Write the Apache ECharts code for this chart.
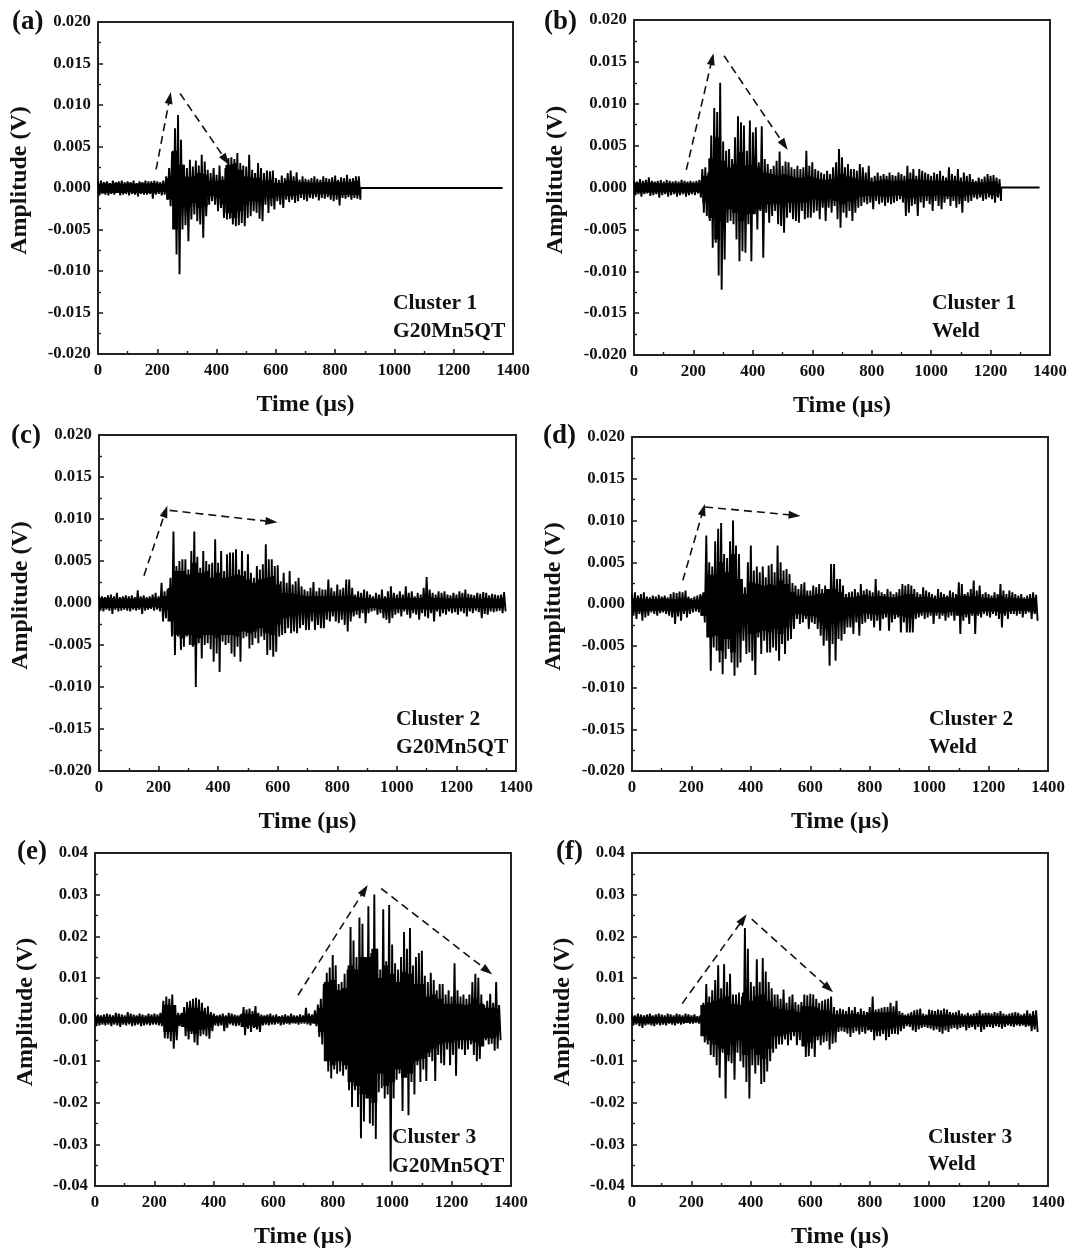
<!DOCTYPE html>
<html><head><meta charset="utf-8"><style>html,body{margin:0;padding:0;background:#fff}#c{width:1070px;height:1250px;filter:blur(0.45px)}</style>
<script src="https://cdn.jsdelivr.net/npm/echarts@6/dist/echarts.min.js"></script></head>
<body><div id="c"></div><script>
// Peak envelopes, in units of 0.0001 V, one value per 10 us starting at t = 0.
const upA=[8,9,7,8,6,9,7,8,9,7, 8,7,9,6,8,7,9,8,8,9, 8,7,9,14,24,44,72,88,58,28,
24,34,26,33,27,40,32,22,18,24, 16,27,14,24,36,37,35,42,30,27, 26,40,22,18,30,24,18,21,20,21,
12,10,15,12,18,21,14,19,10,14, 11,10,12,14,11,10,14,12,11,13, 15,10,13,12,16,11,12,14,14];
const downA=[-9,-7,-8,-9,-7,-8,-6,-9,-8,-7, -9,-7,-8,-10,-7,-8,-8,-7,-13,-8, -7,-9,-8,-14,-22,-30,-80,-104,-50,-45,
-64,-38,-32,-40,-44,-60,-34,-20,-16,-20, -28,-24,-36,-38,-37,-44,-46,-45,-42,-46, -36,-34,-28,-30,-37,-40,-20,-30,-22,-26,
-16,-20,-24,-14,-17,-14,-18,-16,-12,-14, -16,-12,-13,-11,-15,-12,-13,-11,-14,-16, -14,-21,-12,-13,-11,-14,-12,-13,-14];
const upB=[8,7,10,8,9,12,8,7,8,9, 7,9,8,7,8,7,9,8,7,8, 7,8,9,22,24,18,62,95,90,125,
55,44,46,34,60,85,78,74,44,80, 66,72,30,73,34,28,22,26,32,43, 26,31,30,24,22,26,22,24,44,26,
30,22,20,18,16,20,16,24,30,46, 36,24,28,22,22,20,28,24,18,26, 12,14,18,14,16,14,18,15,14,18,
16,14,26,18,22,14,22,20,18,16, 14,18,16,20,14,12,24,16,14,22, 12,18,14,16,10,8,12,10,13,16, 14,15,12,10];
const downB=[-9,-8,-11,-8,-7,-10,-9,-8,-12,-9, -8,-11,-9,-8,-11,-9,-8,-11,-9,-8, -9,-7,-12,-30,-34,-40,-72,-66,-105,-122,
-86,-42,-40,-44,-62,-88,-76,-78,-44,-88, -30,-50,-28,-84,-30,-42,-34,-28,-44,-46, -54,-36,-30,-38,-40,-42,-28,-38,-36,-36,
-30,-28,-38,-24,-40,-24,-30,-22,-38,-48, -30,-36,-28,-40,-30,-24,-22,-18,-20,-18, -26,-16,-20,-18,-22,-18,-20,-18,-16,-14,
-18,-34,-30,-22,-20,-34,-18,-24,-16,-20, -28,-16,-22,-26,-18,-14,-22,-16,-24,-20, -30,-16,-18,-16,-12,-14,-12,-16,-14,-12, -14,-18,-12,-16];
const upC=[9,8,7,9,10,8,12,7,8,9, 8,9,7,15,8,9,7,8,10,12, 8,24,14,16,30,85,44,50,52,52,
40,62,85,55,42,62,50,46,48,76, 48,62,38,58,60,60,64,40,62,38, 58,36,30,44,40,46,70,52,52,44,
45,26,36,24,38,22,26,30,20,16, 14,18,25,14,18,16,16,28,18,14, 22,16,18,28,28,18,10,14,12,16,
14,10,8,12,10,16,8,14,20,12, 10,14,10,20,12,14,8,12,10,18, 31,16,12,10,14,12,14,10,9,12,
10,14,12,16,11,10,9,12,11,13, 12,9,11,10,9,10,13];
const downC=[-9,-10,-8,-9,-13,-8,-10,-9,-8,-9, -10,-8,-9,-8,-13,-9,-8,-7,-9,-8, -10,-22,-18,-12,-40,-62,-40,-56,-52,-40,
-50,-52,-100,-48,-66,-50,-48,-55,-70,-60, -82,-46,-50,-48,-60,-64,-52,-70,-42,-40, -54,-50,-42,-48,-40,-44,-62,-56,-64,-58,
-40,-38,-36,-30,-36,-34,-36,-30,-26,-32, -32,-22,-32,-26,-30,-30,-20,-22,-16,-22, -24,-20,-26,-34,-22,-16,-14,-18,-12,-24,
-12,-10,-9,-14,-12,-18,-20,-24,-18,-14, -12,-16,-10,-14,-18,-12,-14,-20,-12,-16, -18,-12,-22,-10,-16,-12,-14,-10,-12,-11,
-14,-10,-12,-16,-10,-12,-9,-11,-18,-13, -14,-10,-11,-10,-9,-12,-10];
const upD=[12,14,10,12,14,9,8,10,9,11, 9,10,8,12,14,13,15,14,16,9, 7,9,10,12,14,82,50,45,75,90,
97,60,55,75,100,70,60,30,20,50, 70,40,45,38,45,32,46,48,38,70, 50,40,42,36,25,22,18,24,26,16,
16,22,20,24,18,22,18,48,48,30, 30,22,12,14,15,18,14,24,16,18, 16,14,30,16,14,12,18,15,12,14,
18,24,22,24,22,18,14,12,20,16, 14,12,10,18,14,12,10,16,14,12, 26,24,12,14,18,28,16,22,12,14,
12,10,14,12,24,16,12,16,14,12, 10,12,8,10,12,14,11];
const downD=[-14,-18,-12,-20,-16,-14,-10,-12,-14,-11, -10,-12,-14,-16,-24,-15,-20,-12,-16,-12, -10,-9,-10,-14,-22,-34,-80,-52,-56,-70,
-84,-66,-54,-70,-86,-76,-70,-44,-60,-58, -68,-85,-40,-60,-44,-58,-58,-52,-56,-68, -48,-60,-44,-42,-30,-18,-24,-22,-18,-30,
-22,-24,-30,-38,-50,-44,-74,-48,-68,-42, -44,-36,-28,-28,-36,-22,-38,-24,-22,-18, -20,-28,-20,-32,-18,-16,-32,-22,-18,-16,
-34,-22,-34,-34,-34,-18,-16,-14,-18,-16, -14,-24,-14,-18,-14,-20,-16,-14,-20,-12, -36,-20,-16,-24,-14,-36,-14,-16,-12,-14,
-16,-12,-14,-18,-28,-14,-18,-12,-12,-14, -12,-16,-12,-10,-18,-12,-20];
const upE=[14,12,10,12,14,12,10,16,14,12, 10,18,14,12,10,14,12,10,14,12, 14,12,16,45,55,50,60,35,16,14,
30,42,45,50,52,48,40,28,32,18, 14,10,12,14,10,16,14,12,10,12, 30,24,26,20,32,16,12,10,12,14,
10,12,8,10,12,9,14,10,9,12, 10,28,14,12,22,36,50,85,112,125, 155,130,85,90,110,120,222,190,150,245,
230,140,272,160,300,170,120,265,140,275, 180,135,120,150,210,170,220,130,150,160, 165,105,90,112,95,70,85,85,60,70,
55,135,70,55,60,50,60,90,110,100, 60,35,45,62,40,90,35];
const downE=[-16,-14,-12,-14,-12,-16,-12,-14,-18,-12, -14,-12,-16,-14,-12,-16,-14,-12,-14,-12, -12,-14,-16,-45,-46,-52,-70,-50,-16,-18,
-40,-48,-35,-55,-62,-40,-36,-40,-46,-28, -14,-16,-14,-28,-20,-12,-14,-16,-14,-12, -38,-22,-30,-20,-24,-30,-14,-12,-14,-12,
-12,-10,-14,-12,-10,-12,-9,-10,-12,-10, -10,-12,-14,-10,-16,-42,-60,-90,-125,-142, -120,-130,-125,-135,-120,-170,-210,-170,-210,-285,
-245,-175,-250,-255,-287,-175,-165,-190,-180,-365, -190,-145,-130,-220,-120,-230,-150,-180,-110,-150, -120,-148,-90,-100,-148,-85,-105,-110,-72,-110,
-85,-135,-70,-72,-85,-72,-60,-85,-100,-95, -60,-50,-60,-58,-75,-70,-50];
const upF=[12,10,14,12,10,12,14,10,12,14, 12,10,14,12,10,14,12,10,14,12, 10,12,8,10,40,85,55,70,95,130,
75,133,90,110,60,60,65,55,220,170, 90,80,145,90,148,115,90,75,60,60, 50,72,40,55,60,42,36,42,60,58,
62,60,50,40,45,48,50,55,30,22, 26,24,20,30,22,30,18,26,20,18, 30,55,24,26,28,30,30,40,32,45,
20,16,12,14,18,22,24,26,14,12, 24,22,20,24,22,26,24,18,16,18, 22,14,12,16,12,14,16,22,14,16,
16,14,18,16,20,14,12,14,16,18, 16,12,14,22,14,20,22];
const downF=[-14,-12,-16,-20,-14,-12,-14,-16,-12,-14, -12,-14,-10,-12,-14,-10,-12,-10,-8,-10, -10,-8,-10,-12,-55,-60,-85,-90,-110,-140,
-80,-190,-100,-105,-145,-80,-100,-115,-150,-190, -110,-130,-110,-155,-150,-125,-100,-80,-70,-60, -60,-48,-62,-50,-40,-62,-50,-48,-90,-88,
-70,-90,-50,-62,-55,-52,-72,-58,-55,-30, -28,-30,-34,-42,-32,-28,-36,-30,-34,-26, -30,-50,-40,-40,-35,-50,-42,-35,-34,-36,
-28,-22,-16,-18,-26,-30,-24,-20,-18,-20, -22,-26,-24,-30,-34,-26,-30,-22,-20,-24, -20,-18,-26,-20,-18,-24,-18,-30,-24,-18,
-18,-20,-16,-18,-22,-18,-14,-16,-18,-14, -16,-14,-18,-16,-28,-24,-30];
// Solid-black core of each trace, in 0.0001 V, one value per 20 us from t = 0.
const coreUpA=[5,6,5,6,5,6,5,6,5,6,5,5,12,45,28,14,14,18,16,8,8,10,28,30,22,14,12,12,9,10,6,6,9,8,7,7,6,7,7,7,8,7,7,8,9];
const coreDownA=[-6,-6,-6,-6,-6,-5,-6,-6,-6,-6,-5,-5,-14,-50,-26,-22,-18,-24,-22,-10,-12,-20,-30,-36,-28,-20,-16,-16,-10,-12,-8,-9,-10,-9,-7,-7,-7,-7,-7,-8,-8,-8,-8,-8,-9];
const coreUpB=[6,5,6,6,5,5,5,5,5,5,5,6,14,35,60,32,24,28,42,26,28,24,18,16,14,16,14,12,12,14,12,10,9,10,12,16,13,11,8,8,7,8,10,8,8,8,10,10,9,9,8,8,8,8,8,7,7,6,6,6,7,8];
const coreDownB=[-6,-6,-6,-6,-6,-6,-5,-6,-6,-6,-5,-6,-18,-36,-62,-40,-26,-30,-40,-32,-32,-26,-20,-20,-20,-22,-18,-16,-18,-18,-14,-14,-12,-12,-16,-20,-16,-14,-11,-10,-10,-10,-11,-10,-9,-10,-11,-12,-10,-10,-10,-9,-10,-11,-10,-10,-9,-8,-8,-7,-9,-10];
const coreUpC=[6,6,6,5,6,5,5,6,5,6,5,8,18,38,38,34,48,36,38,30,36,30,32,34,32,28,24,28,30,32,22,12,12,10,9,8,8,8,8,8,8,8,9,7,6,6,5,5,6,6,6,6,6,6,6,8,6,6,5,5,5,6,6,5,5,6,5,5,7];
const coreDownC=[-6,-6,-6,-6,-6,-6,-6,-5,-6,-5,-6,-8,-22,-38,-42,-38,-50,-42,-38,-38,-42,-38,-38,-40,-34,-36,-34,-30,-36,-38,-26,-18,-16,-14,-12,-12,-11,-10,-10,-10,-9,-10,-11,-9,-7,-6,-6,-7,-8,-7,-7,-7,-8,-7,-7,-8,-7,-7,-7,-6,-6,-6,-6,-6,-6,-6,-6,-6,-7];
const coreUpD=[7,7,6,6,6,7,6,6,7,7,5,5,10,35,35,50,38,60,30,12,26,24,22,24,22,28,24,14,10,10,10,12,13,18,18,14,8,8,10,11,9,9,10,8,8,10,12,12,8,9,8,6,8,8,7,10,10,8,10,7,7,7,10,7,7,7,6,7,8];
const coreDownD=[-9,-9,-8,-8,-8,-8,-8,-9,-9,-8,-5,-6,-14,-40,-38,-56,-42,-58,-34,-22,-36,-34,-32,-34,-30,-36,-28,-12,-12,-14,-14,-16,-22,-30,-24,-20,-14,-12,-14,-11,-12,-13,-12,-11,-13,-14,-16,-16,-11,-10,-10,-10,-11,-10,-9,-14,-12,-11,-12,-9,-9,-9,-11,-9,-8,-8,-8,-9,-11];
const coreUpE=[7,6,6,6,6,6,6,7,6,7,6,8,35,35,10,16,28,28,20,12,8,7,7,7,7,14,12,14,7,7,6,6,6,6,6,6,8,10,28,90,95,70,75,130,120,150,150,170,100,130,110,90,115,110,85,85,55,60,50,38,38,38,35,38,50,38,28,28,24];
const coreDownE=[-8,-7,-7,-7,-7,-7,-7,-8,-7,-7,-7,-9,-30,-30,-10,-18,-28,-34,-24,-12,-8,-8,-8,-8,-7,-18,-14,-18,-8,-7,-6,-6,-7,-7,-6,-6,-8,-10,-30,-100,-110,-100,-110,-150,-160,-180,-190,-200,-130,-160,-150,-120,-140,-130,-100,-95,-80,-70,-60,-55,-55,-50,-50,-50,-55,-65,-45,-45,-40];
const coreUpF=[7,6,6,7,6,6,6,6,6,6,5,5,35,40,45,50,55,38,35,65,45,55,60,45,30,25,22,20,18,32,32,28,22,20,12,12,12,14,12,10,16,18,16,18,16,10,8,10,10,8,12,11,12,12,10,8,8,8,8,9,9,8,8,8,8,8,8,8,12];
const coreDownF=[-8,-8,-9,-9,-8,-8,-8,-8,-7,-8,-5,-5,-40,-50,-60,-70,-85,-60,-50,-85,-70,-85,-95,-70,-40,-40,-35,-30,-30,-65,-55,-40,-38,-30,-18,-18,-20,-18,-16,-16,-24,-28,-24,-22,-20,-14,-11,-12,-14,-12,-14,-16,-16,-14,-12,-12,-11,-12,-11,-12,-11,-10,-10,-10,-10,-10,-12,-14,-16];
// Dashed trend arrows in data coordinates: [t0, V0, t1, V1]
const arrowsA=[[196,.00224,242,.01086],[277,.01138,431,.00337]];
const arrowsB=[[176,.0021,263,.01533],[303,.01573,506,.00507]];
const arrowsC=[[151,.00325,223,.0109],[237,.01103,579,.00968]];
const arrowsD=[[171,.00283,240,.0113],[246,.01162,547,.01062]];
const arrowsE=[[683,.00582,907,.03108],[963,.03147,1321,.01171]];
const arrowsF=[[169,.00382,374,.0241],[403,.0241,662,.0075]];
const xMax=1400, signalEnd=1365;
const panels=[
 {up:upA,down:downA,cu:coreUpA,cd:coreDownA,arrows:arrowsA,box:[98,22,513,354],yMax:.02,step:.005,dec:3,gap:66,letter:'(a)',lx:12,ly:24,tx:393,ty:[304,332],text:['Cluster 1','G20Mn5QT']},
 {up:upB,down:downB,cu:coreUpB,cd:coreDownB,arrows:arrowsB,box:[634,20,1050,355],yMax:.02,step:.005,dec:3,gap:66,letter:'(b)',lx:544,ly:24,tx:932,ty:[304,332],text:['Cluster 1','Weld']},
 {up:upC,down:downC,cu:coreUpC,cd:coreDownC,arrows:arrowsC,box:[99,435,516,771],yMax:.02,step:.005,dec:3,gap:66,letter:'(c)',lx:11,ly:438,tx:396,ty:[720,748],text:['Cluster 2','G20Mn5QT']},
 {up:upD,down:downD,cu:coreUpD,cd:coreDownD,arrows:arrowsD,box:[632,437,1048,771],yMax:.02,step:.005,dec:3,gap:66,letter:'(d)',lx:543,ly:438,tx:929,ty:[720,748],text:['Cluster 2','Weld']},
 {up:upE,down:downE,cu:coreUpE,cd:coreDownE,arrows:arrowsE,box:[95,853,511,1188],yMax:.04,step:.01,dec:2,gap:57,letter:'(e)',lx:17,ly:854,tx:392,ty:[1138,1167],text:['Cluster 3','G20Mn5QT']},
 {up:upF,down:downF,cu:coreUpF,cd:coreDownF,arrows:arrowsF,box:[632,853,1048,1188],yMax:.04,step:.01,dec:2,gap:57,letter:'(f)',lx:556,ly:854,tx:928,ty:[1138,1165],text:['Cluster 3','Weld']}
];
const FONT='"Liberation Serif","Times New Roman",serif';
const grids=[],xAxes=[],yAxes=[],series=[],graphics=[];
panels.forEach((p,i)=>{
  const [l,t,r,b]=p.box;
  grids.push({left:l,top:t,width:r-l,height:b-t,show:true,borderColor:'#222',borderWidth:2,backgroundColor:'transparent',containLabel:false});
  const line={show:true,onZero:false,lineStyle:{color:'#222',width:2}};
  const nameStyle={fontFamily:FONT,fontWeight:'bold',fontSize:24,color:'#111'};
  const labelStyle={fontFamily:FONT,fontWeight:'bold',fontSize:16.8,color:'#111',showMinLabel:true,showMaxLabel:true};
  const tick={show:true,inside:true,length:5,lineStyle:{color:'#222',width:1.6}};
  const minor={show:true,splitNumber:2,length:3,lineStyle:{color:'#222',width:1.4}};
  xAxes.push({type:'value',gridIndex:i,min:0,max:xMax,interval:200,position:'bottom',
    name:'Time (µs)',nameLocation:'middle',nameGap:39,nameTextStyle:nameStyle,
    axisLine:line,axisTick:tick,minorTick:minor,splitLine:{show:false},minorSplitLine:{show:false},
    axisLabel:Object.assign({margin:8,formatter:v=>String(v)},labelStyle)});
  yAxes.push({type:'value',gridIndex:i,min:-p.yMax,max:p.yMax,interval:p.step,position:'left',
    name:'Amplitude (V)',nameLocation:'middle',nameGap:p.gap,nameRotate:90,nameTextStyle:Object.assign({padding:[0,0,0,15]},nameStyle),
    axisLine:line,axisTick:tick,minorTick:minor,splitLine:{show:false},minorSplitLine:{show:false},
    axisLabel:Object.assign({margin:7,formatter:v=>v.toFixed(p.dec)},labelStyle)});
  const pts=[];
  p.up.forEach((u,k)=>{pts.push([k*10,u*1e-4]);pts.push([k*10+5,p.down[k]*1e-4]);});
  const lastT=(p.up.length-1)*10+5;
  if(lastT<signalEnd){pts.push([lastT+1,0]);pts.push([signalEnd,0]);}
  series.push({type:'line',xAxisIndex:i,yAxisIndex:i,data:pts,showSymbol:false,symbol:'none',sampling:false,animation:false,silent:true,
    lineStyle:{color:'#000',width:1.9,join:'miter',miterLimit:4},
    markLine:{silent:true,animation:false,symbol:['none','triangle'],symbolSize:[8,12],label:{show:false},
      lineStyle:{color:'#111',width:1.6,type:[8,5]},
      data:p.arrows.map(a=>[{coord:[a[0],a[1]]},{coord:[a[2],a[3]]}])}});
  [p.cu,p.cd].forEach(c=>series.push({type:'line',step:'middle',xAxisIndex:i,yAxisIndex:i,data:c.map((v,k)=>[k*20,v*1e-4]),showSymbol:false,symbol:'none',animation:false,silent:true,
    lineStyle:{width:0,color:'#000'},areaStyle:{color:'#000',opacity:1,origin:'auto'}}));
  graphics.push({type:'text',left:p.lx,top:p.ly-15,style:{text:p.letter,font:'bold 27px '+FONT,fill:'#111'}});
  p.text.forEach((s,k)=>graphics.push({type:'text',left:p.tx,top:p.ty[k]-12,style:{text:s,font:'bold 21.5px '+FONT,fill:'#111'}}));
});
const chart=echarts.init(document.getElementById('c'),null,{renderer:'canvas',width:1070,height:1250});
chart.setOption({animation:false,backgroundColor:'#fff',grid:grids,xAxis:xAxes,yAxis:yAxes,series,graphic:graphics});
</script></body></html>
